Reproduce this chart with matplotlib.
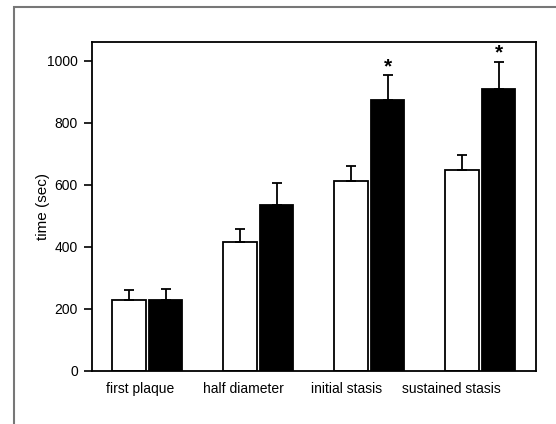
import matplotlib.pyplot as plt
import numpy as np
from matplotlib.patches import Rectangle

plt.rcParams['font.family'] = ['Liberation Sans', 'DejaVu Sans']

# mean times and upper error (SD) for each stage
stages = ['first plaque', 'half diameter', 'initial stasis', 'sustained stasis']
open_mean = [230, 416, 612, 647]
open_err = [31, 42, 50, 51]
filled_mean = [229, 535, 875, 910]
filled_err = [35, 70, 79, 87]
significant = [False, False, True, True]
label_pos = [-0.066, 0.866, 1.80, 2.74]

x = np.arange(len(stages))
w = 0.30
off = 0.165

fig = plt.figure(figsize=(5.56, 4.24), dpi=100)
ax = fig.add_axes([0.165, 0.125, 0.7985, 0.7767])

ax.bar(x - off, open_mean, w, color='white', edgecolor='black', linewidth=1.3,
       yerr=[np.zeros(4), open_err], error_kw=dict(ecolor='black', elinewidth=1.3, capsize=3.5, capthick=1.3))
ax.bar(x + off, filled_mean, w, color='black', edgecolor='black', linewidth=1.3,
       yerr=[np.zeros(4), filled_err], error_kw=dict(ecolor='black', elinewidth=1.3, capsize=3.5, capthick=1.3))

# asterisks above significant differences
for i in range(len(stages)):
    if significant[i]:
        ax.text(x[i] + off, filled_mean[i] + filled_err[i] + 28, '*', ha='center', va='center',
                fontsize=15, fontweight='bold')

ax.set_xlim(-0.5, 3.5)
ax.set_ylim(0, 1062)
ax.set_yticks([0, 200, 400, 600, 800, 1000])
ax.set_xticks(label_pos)
ax.set_xticklabels(stages, fontsize=10)
ax.tick_params(axis='x', length=0, pad=8)
ax.tick_params(axis='y', length=6, width=1.2, labelsize=10, pad=4)
ax.set_ylabel('time (sec)', fontsize=11)
ax.yaxis.set_label_coords(-0.093, 0.5)
for s in ax.spines.values():
    s.set_linewidth(1.3)

# frame around the figure panel
fig.add_artist(Rectangle((14 / 556, -0.1), 1.2, 1.1 - 7 / 424, transform=fig.transFigure,
                         fill=False, edgecolor='#777777', linewidth=1.5, clip_on=False))

fig.savefig('out.png', dpi=100)
